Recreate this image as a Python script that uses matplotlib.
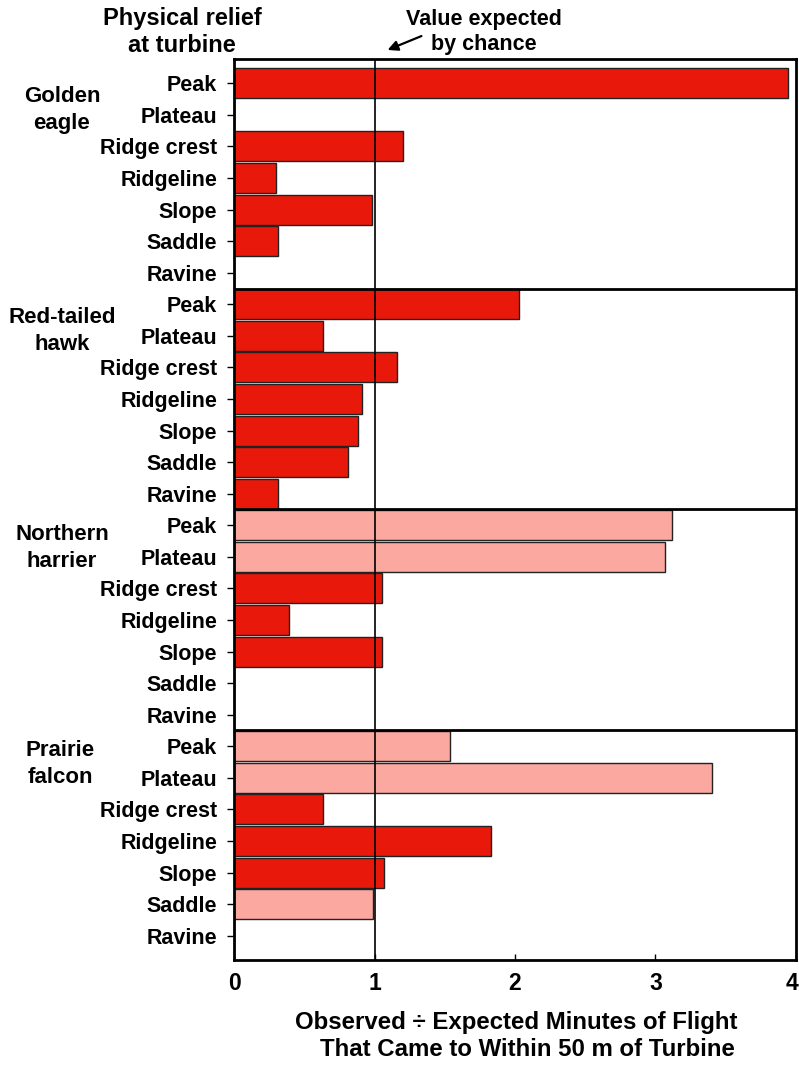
import matplotlib.pyplot as plt
from matplotlib.transforms import ScaledTranslation

plt.rcParams['font.family'] = ['Liberation Sans', 'DejaVu Sans']
plt.rcParams['font.weight'] = 'bold'

# relief categories and species groups
relief = ["Peak", "Plateau", "Ridge crest", "Ridgeline", "Slope", "Saddle", "Ravine"]
species = ["Golden\neagle", "Red-tailed\nhawk", "Northern\nharrier", "Prairie\nfalcon"]

# observed / expected ratios per species (same order as relief)
golden_eagle = [3.94, 0.0, 1.20, 0.30, 0.98, 0.31, 0.0]
red_tailed_hawk = [2.03, 0.63, 1.16, 0.91, 0.88, 0.81, 0.31]
northern_harrier = [3.12, 3.07, 1.05, 0.39, 1.05, 0.0, 0.0]
prairie_falcon = [1.54, 3.40, 0.63, 1.83, 1.07, 0.99, 0.0]

# True -> light (pale) bar
golden_eagle_pale = [False] * 7
red_tailed_hawk_pale = [False] * 7
northern_harrier_pale = [True, True, False, False, False, False, False]
prairie_falcon_pale = [True, True, False, False, False, True, False]

all_values = golden_eagle + red_tailed_hawk + northern_harrier + prairie_falcon
all_pale = golden_eagle_pale + red_tailed_hawk_pale + northern_harrier_pale + prairie_falcon_pale
labels = relief * 4

RED = "#E8190A"
PALE = "#FBA8A0"

W, H = 799, 1065
fig = plt.figure(figsize=(W / 100, H / 100), dpi=100)
ax = fig.add_axes([0.2929, 0.0986, 0.7033, 0.846])

ypos = list(range(len(all_values)))
colors = [PALE if p else RED for p in all_pale]
ax.barh(ypos, all_values, height=0.95, color=colors, edgecolor="#222222", linewidth=1.0, zorder=2)

ax.set_xlim(0, 4)
ax.set_ylim(27.77, -0.77)
ax.set_xticks([0, 1, 2, 3, 4])
ax.set_xticklabels(["0", "1", "2", "3", "4"], fontsize=16.5, fontweight="bold")
ax.set_yticks(ypos)
ax.set_yticklabels(labels, fontsize=15.5, fontweight="bold")
ax.tick_params(axis="y", direction="out", length=5, width=1, pad=7)
ax.tick_params(axis="x", direction="in", length=4, width=1, pad=9)
# keep the "4" inside the figure
last = ax.get_xticklabels()[-1]
last.set_transform(last.get_transform() + ScaledTranslation(-4 / 100, 0, fig.dpi_scale_trans))

for s in ax.spines.values():
    s.set_linewidth(2)
    s.set_color("black")

# value expected by chance
ax.axvline(1, color="black", linewidth=1.2, zorder=3)

# group separators
for y in [6.5, 13.5, 20.5]:
    ax.axhline(y, color="black", linewidth=2, zorder=4)

# species labels (pixel centres)
species_x = [62, 62, 62, 60]
species_y = [110, 331, 548, 764]
for name, x, y in zip(species, species_x, species_y):
    fig.text(x / W, 1 - y / H, name, ha="center", va="center", fontsize=16,
             fontweight="bold", linespacing=1.35)

fig.text(182 / W, 1 - 32 / H, "Physical relief\nat turbine", ha="center", va="center",
         fontsize=17, fontweight="bold", linespacing=1.2)

fig.text(484 / W, 1 - 32 / H, "Value expected\nby chance", ha="center", va="center",
         fontsize=15.5, fontweight="bold", linespacing=1.25)
ax.annotate("", xy=(385 / W, 1 - 51 / H), xytext=(424 / W, 1 - 35 / H),
            xycoords="figure fraction", textcoords="figure fraction",
            arrowprops=dict(arrowstyle="-|>", color="black", lw=1.6, mutation_scale=15))

fig.text(516 / W, 1 - 1022 / H, "Observed \u00f7 Expected Minutes of Flight",
         ha="center", va="center", fontsize=17.3, fontweight="bold")
fig.text(527 / W, 1 - 1050 / H, "That Came to Within 50 m of Turbine",
         ha="center", va="center", fontsize=17.3, fontweight="bold")

fig.savefig("out.png", dpi=100)
